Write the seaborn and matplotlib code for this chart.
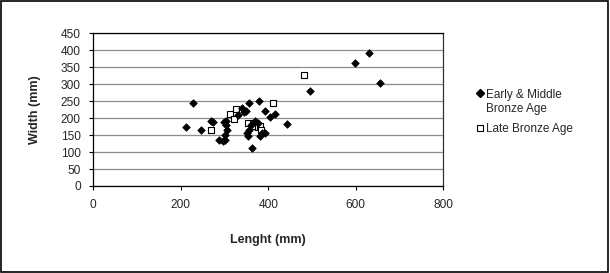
import matplotlib
matplotlib.use("Agg")
import matplotlib.pyplot as plt
import seaborn as sns
import pandas as pd
from matplotlib.lines import Line2D
from matplotlib.patches import Rectangle
from matplotlib.legend_handler import HandlerLine2D

# Data
em_length = [212, 229, 247, 270, 274, 288, 296, 301, 299, 303, 303, 305, 302,
             330, 341, 349, 344, 357, 378, 351, 357, 360, 370, 377, 385, 392,
             353, 381, 363, 392, 404, 415, 443, 495, 598, 630, 655]
em_width = [174, 245, 166, 192, 188, 137, 132, 137, 188, 193, 180, 164, 150,
            210, 229, 222, 218, 246, 250, 155, 165, 180, 193, 185, 155, 155,
            146, 146, 113, 220, 202, 212, 184, 281, 362, 393, 305]
lb_length = [268, 312, 321, 327, 354, 365, 365, 377, 381, 383, 410, 481]
lb_width = [164, 213, 197, 228, 185, 185, 178, 175, 178, 166, 246, 327]

labels = ["Early & Middle\nBronze Age", "Late Bronze Age"]
x_ticks = [0, 200, 400, 600, 800]
y_ticks = [0, 50, 100, 150, 200, 250, 300, 350, 400, 450]

sns.set_style("white")
plt.rcParams["font.family"] = ["Liberation Sans", "DejaVu Sans"]

df_em = pd.DataFrame({"Length": em_length, "Width": em_width})
df_lb = pd.DataFrame({"Length": lb_length, "Width": lb_width})

fig = plt.figure(figsize=(6.10, 2.73), dpi=100)
ax = fig.add_axes([93.3 / 610, 1 - 186 / 273, 350 / 610, 152.7 / 273])

ax.set_xlim(0, 800)
ax.set_ylim(0, 450)
ax.set_yticks(y_ticks)
ax.set_xticks(x_ticks)
ax.yaxis.grid(True, color="#8c8c8c", linewidth=0.9)
ax.xaxis.grid(False)
ax.set_axisbelow(True)

sns.scatterplot(data=df_lb, x="Length", y="Width", ax=ax, marker="s", s=22,
                color="white", edgecolor="black", linewidth=0.8, zorder=3)
sns.scatterplot(data=df_em, x="Length", y="Width", ax=ax, marker="D", s=15,
                color="black", edgecolor="black", linewidth=0.5, zorder=4)

for sp in ax.spines.values():
    sp.set_visible(True)
    sp.set_color("black")
    sp.set_linewidth(0.9)
ax.spines["right"].set_color("#333333")

ax.tick_params(axis="both", which="major", direction="out", length=3, width=0.8,
               color="black", labelsize=8.6, pad=6, left=True, bottom=True)
ax.tick_params(axis="x", pad=6)

ax.set_xlabel("Lenght (mm)", fontsize=9, fontweight="bold", labelpad=17)
ax.set_ylabel("Width (mm)", fontsize=9, fontweight="bold", labelpad=14)


class TopLineHandler(HandlerLine2D):
    """Place the marker level with the first line of a two-line label."""
    def create_artists(self, legend, orig_handle, xdescent, ydescent, width,
                       height, fontsize, trans):
        artists = super().create_artists(legend, orig_handle, xdescent, ydescent,
                                         width, height, fontsize, trans)
        for a in artists:
            a.set_ydata([y + 0.75 * fontsize for y in a.get_ydata()])
        return artists


handles = [
    Line2D([0], [0], marker="D", linestyle="none", markersize=3.8,
           markerfacecolor="black", markeredgecolor="black"),
    Line2D([0], [0], marker="s", linestyle="none", markersize=5,
           markerfacecolor="white", markeredgecolor="black", markeredgewidth=0.8),
]
fig.legend(handles, labels, loc="center left",
           bbox_to_anchor=(476 / 610, 1 - 112 / 273), frameon=False,
           fontsize=8.5, handlelength=0.7, handletextpad=0.15, labelspacing=0.7,
           borderaxespad=0, borderpad=0,
           handler_map={handles[0]: TopLineHandler()})

fig.patches.append(Rectangle((0.001, 0.004), 0.995, 0.993, transform=fig.transFigure,
                             fill=False, edgecolor="black", linewidth=1.2))

fig.savefig("out.png", dpi=100)
